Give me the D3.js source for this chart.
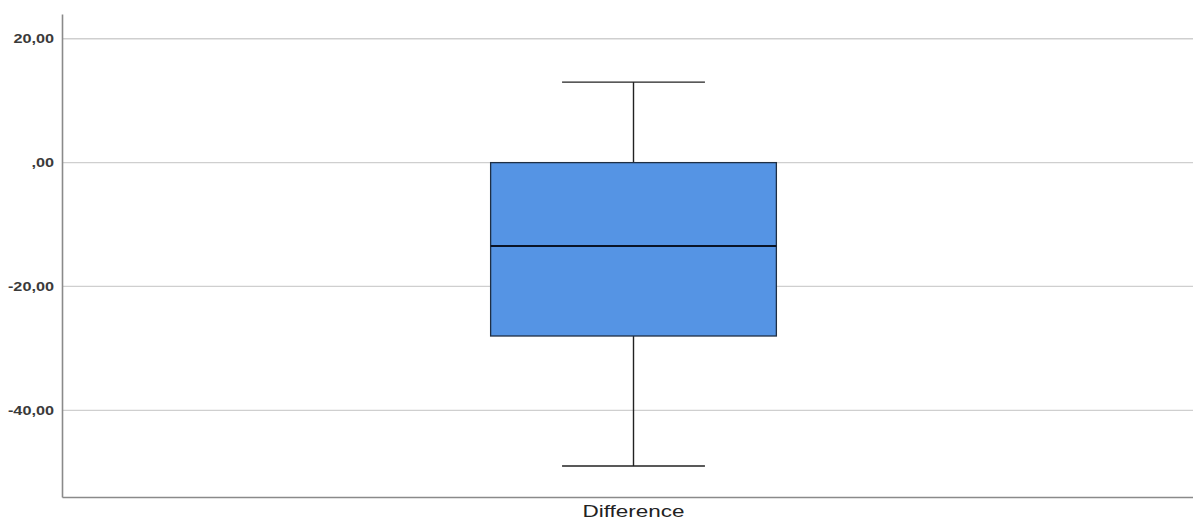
<!DOCTYPE html>
<html>
<head>
<meta charset="utf-8">
<script src="https://cdn.jsdelivr.net/npm/d3@7"></script>
<style>
  html, body { margin: 0; padding: 0; background: #fff; }
  svg { display: block; }
</style>
</head>
<body>
<svg id="chart" width="1193" height="519"></svg>
<script>
// Box plot summary for the single variable
const categories = ["Difference"];
const whiskerLow = [-49];
const quartile1 = [-28];
const medians = [-13.45];
const quartile3 = [0];
const whiskerHigh = [13];
const yTicks = [-40, -20, 0, 20];

const width = 1193, height = 519;
const margin = { left: 62, right: -12, top: 14, bottom: 22 };
const stretch = 1.3; // horizontal widening of label glyphs

const svg = d3.select("#chart");

const y = d3.scaleLinear()
  .domain([-54, 24])
  .range([height - margin.bottom, margin.top]);

const x = d3.scaleBand()
  .domain(categories)
  .range([margin.left, width - margin.right])
  .padding(0);

// Comma decimal, hyphen minus, leading zero dropped (",00")
const locale = d3.formatLocale({ decimal: ",", thousands: ".", grouping: [3], currency: ["", ""], minus: "-" });
const fmt = v => locale.format(".2f")(v).replace(/^(-?)0,/, "$1,");

// Horizontal gridlines
svg.append("g")
  .selectAll("line")
  .data(yTicks)
  .join("line")
  .attr("x1", margin.left)
  .attr("x2", width)
  .attr("y1", d => y(d))
  .attr("y2", d => y(d))
  .attr("stroke", "#cfcfcf")
  .attr("stroke-width", 1.3);

// Y axis with labels
const yAxis = svg.append("g")
  .attr("transform", `translate(${margin.left},0)`)
  .call(d3.axisLeft(y).tickValues(yTicks).tickFormat(fmt).tickSize(0).tickPadding(9));
yAxis.select(".domain").attr("stroke", "#8a8a8a").attr("stroke-width", 1.6);
yAxis.selectAll("text")
  .attr("font-family", "Liberation Sans, Arial, sans-serif")
  .attr("font-size", 12.5)
  .attr("font-weight", "bold")
  .attr("fill", "#3a3a3a")
  .attr("x", -8 / stretch)
  .attr("transform", `scale(${stretch},1)`);

// X axis with category label
const xAxis = svg.append("g")
  .attr("transform", `translate(0,${y(-54)})`)
  .call(d3.axisBottom(x).tickSize(0).tickPadding(0));
xAxis.select(".domain").attr("stroke", "#8a8a8a").attr("stroke-width", 1.6);
xAxis.selectAll(".tick text")
  .attr("dy", null)
  .attr("y", 20)
  .attr("font-family", "Liberation Sans, Arial, sans-serif")
  .attr("font-size", 16)
  .attr("fill", "#222")
  .attr("textLength", 102)
  .attr("lengthAdjust", "spacingAndGlyphs");

// Boxes
const boxes = svg.append("g")
  .selectAll("g")
  .data(categories.map((c, i) => ({
    c, lo: whiskerLow[i], q1: quartile1[i], med: medians[i], q3: quartile3[i], hi: whiskerHigh[i]
  })))
  .join("g");

const cx = d => x(d.c) + x.bandwidth() / 2;
const boxW = x.bandwidth() * 0.25;
const capW = boxW * 0.5;

boxes.append("line")
  .attr("x1", cx).attr("x2", cx)
  .attr("y1", d => y(d.hi)).attr("y2", d => y(d.q3))
  .attr("stroke", "#222").attr("stroke-width", 1.4);
boxes.append("line")
  .attr("x1", cx).attr("x2", cx)
  .attr("y1", d => y(d.q1)).attr("y2", d => y(d.lo))
  .attr("stroke", "#222").attr("stroke-width", 1.4);
boxes.append("line")
  .attr("x1", d => cx(d) - capW / 2).attr("x2", d => cx(d) + capW / 2)
  .attr("y1", d => y(d.hi)).attr("y2", d => y(d.hi))
  .attr("stroke", "#222").attr("stroke-width", 1.4);
boxes.append("line")
  .attr("x1", d => cx(d) - capW / 2).attr("x2", d => cx(d) + capW / 2)
  .attr("y1", d => y(d.lo)).attr("y2", d => y(d.lo))
  .attr("stroke", "#222").attr("stroke-width", 1.4);
boxes.append("rect")
  .attr("x", d => cx(d) - boxW / 2)
  .attr("width", boxW)
  .attr("y", d => y(d.q3))
  .attr("height", d => y(d.q1) - y(d.q3))
  .attr("fill", "#5594e4")
  .attr("stroke", "#1f2f44")
  .attr("stroke-width", 1.3);
boxes.append("line")
  .attr("x1", d => cx(d) - boxW / 2).attr("x2", d => cx(d) + boxW / 2)
  .attr("y1", d => y(d.med)).attr("y2", d => y(d.med))
  .attr("stroke", "#0a1426").attr("stroke-width", 2);
</script>
</body>
</html>
